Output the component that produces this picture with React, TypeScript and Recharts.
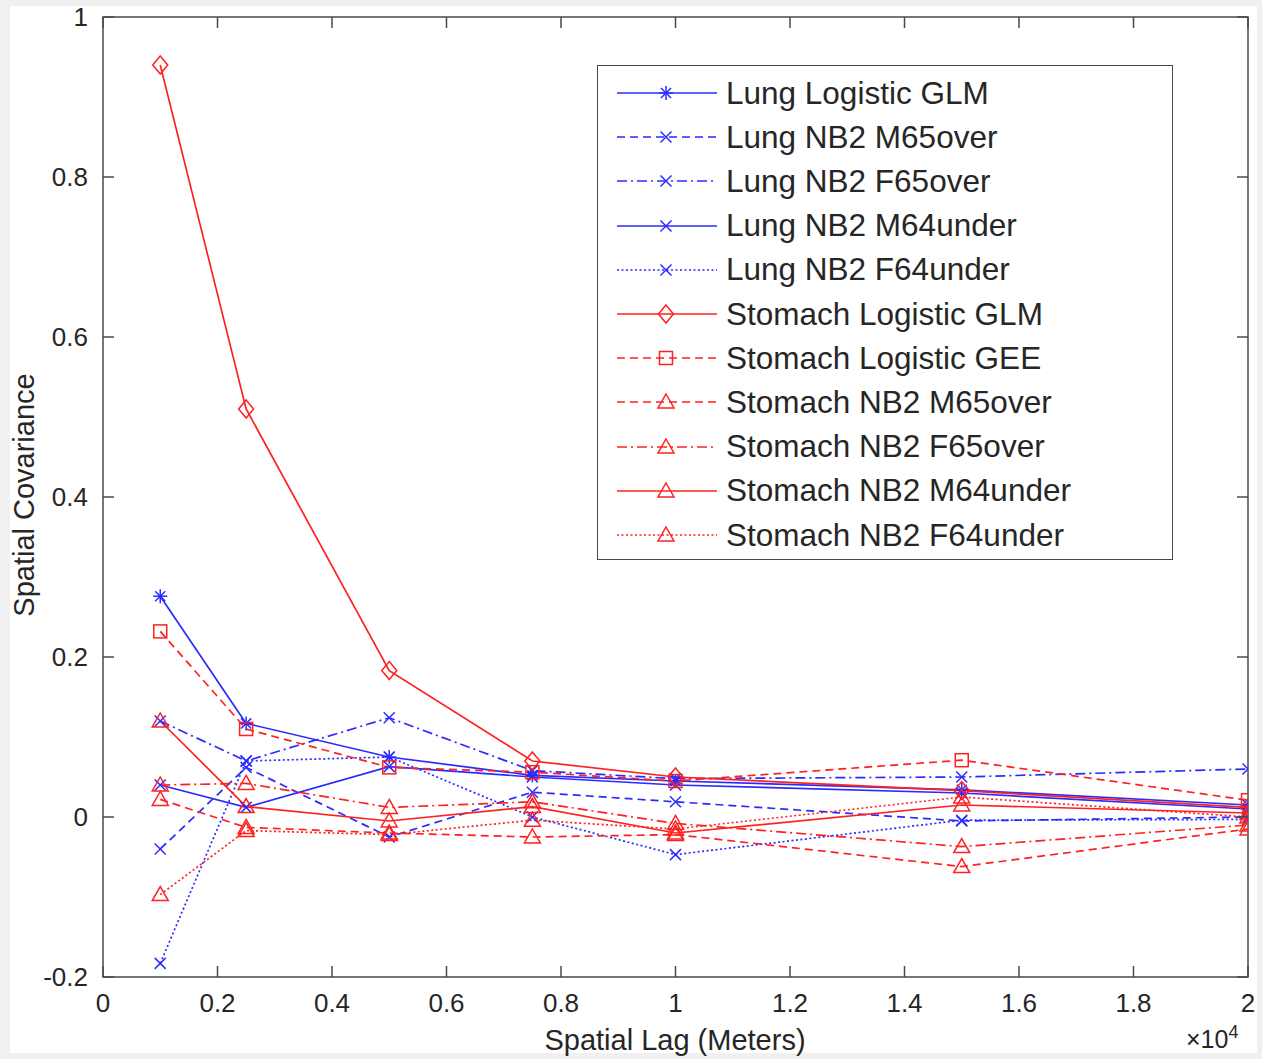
import { LineChart, Line, XAxis, YAxis, ReferenceArea } from "recharts";

// spatial lag in meters
const lags = [1000, 2500, 5000, 7500, 10000, 15000, 20000];

const lungLogisticGlm = [0.276, 0.117, 0.075, 0.052, 0.045, 0.034, 0.015];
const lungM65over = [-0.04, 0.062, -0.025, 0.031, 0.019, -0.005, 0.0];
const lungF65over = [0.12, 0.07, 0.124, 0.058, 0.048, 0.05, 0.06];
const lungM64under = [0.04, 0.012, 0.063, 0.05, 0.04, 0.03, 0.01];
const lungF64under = [-0.183, 0.07, 0.075, 0.0, -0.047, -0.004, -0.003];

const stomachLogisticGlm = [0.94, 0.51, 0.183, 0.07, 0.05, 0.033, 0.012];
const stomachLogisticGee = [0.232, 0.11, 0.062, 0.056, 0.045, 0.071, 0.021];
const stomachM65over = [0.022, -0.013, -0.02, -0.025, -0.022, -0.062, -0.015];
const stomachF65over = [0.04, 0.042, 0.012, 0.019, -0.008, -0.037, -0.01];
const stomachM64under = [0.12, 0.013, -0.005, 0.013, -0.02, 0.015, 0.005];
const stomachF64under = [-0.097, -0.017, -0.022, -0.004, -0.015, 0.025, 0.0];

const xTicks = [0, 2000, 4000, 6000, 8000, 10000, 12000, 14000, 16000, 18000, 20000];
const xTickLabels = ["0", "0.2", "0.4", "0.6", "0.8", "1", "1.2", "1.4", "1.6", "1.8", "2"];
const yTicks = [-0.2, 0, 0.2, 0.4, 0.6, 0.8, 1];
const yTickLabels = ["-0.2", "0", "0.2", "0.4", "0.6", "0.8", "1"];

const BLUE = "#2b2bff";
const RED = "#ff2020";
const AXIS = "#4a4a4a";
const TEXT = "#262626";
const FONT = "'Liberation Sans', Arial, Helvetica, sans-serif";

const PLOT_LEFT = 103;
const PLOT_RIGHT = 1248;
const PLOT_TOP = 17;
const PLOT_BOTTOM = 977;
const TICK_LEN = 11;

const DASHED = "8 5";
const DASH_DOT = "10 4 2 4";
const DOTTED = "2 2.5";

type MarkerKind = "asterisk" | "x" | "diamond" | "square" | "triangle";

const series = [
  { key: "s0", name: "Lung Logistic GLM", values: lungLogisticGlm, color: BLUE, dash: undefined, marker: "asterisk" },
  { key: "s1", name: "Lung NB2 M65over", values: lungM65over, color: BLUE, dash: DASHED, marker: "x" },
  { key: "s2", name: "Lung NB2 F65over", values: lungF65over, color: BLUE, dash: DASH_DOT, marker: "x" },
  { key: "s3", name: "Lung NB2 M64under", values: lungM64under, color: BLUE, dash: undefined, marker: "x" },
  { key: "s4", name: "Lung NB2 F64under", values: lungF64under, color: BLUE, dash: DOTTED, marker: "x" },
  { key: "s5", name: "Stomach Logistic GLM", values: stomachLogisticGlm, color: RED, dash: undefined, marker: "diamond" },
  { key: "s6", name: "Stomach Logistic GEE", values: stomachLogisticGee, color: RED, dash: DASHED, marker: "square" },
  { key: "s7", name: "Stomach NB2 M65over", values: stomachM65over, color: RED, dash: DASHED, marker: "triangle" },
  { key: "s8", name: "Stomach NB2 F65over", values: stomachF65over, color: RED, dash: DASH_DOT, marker: "triangle" },
  { key: "s9", name: "Stomach NB2 M64under", values: stomachM64under, color: RED, dash: undefined, marker: "triangle" },
  { key: "s10", name: "Stomach NB2 F64under", values: stomachF64under, color: RED, dash: DOTTED, marker: "triangle" },
] as { key: string; name: string; values: number[]; color: string; dash?: string; marker: MarkerKind }[];

const data = lags.map((lag, i) => {
  const row: Record<string, number> = { lag };
  series.forEach((s) => {
    row[s.key] = s.values[i];
  });
  return row;
});

function Marker({ kind, cx, cy, color }: { kind: MarkerKind; cx: number; cy: number; color: string }) {
  const sw = 1.5;
  if (kind === "asterisk") {
    const r = 7;
    const d = r * 0.72;
    return (
      <g stroke={color} strokeWidth={sw} fill="none">
        <line x1={cx - r} y1={cy} x2={cx + r} y2={cy} />
        <line x1={cx} y1={cy - r} x2={cx} y2={cy + r} />
        <line x1={cx - d} y1={cy - d} x2={cx + d} y2={cy + d} />
        <line x1={cx - d} y1={cy + d} x2={cx + d} y2={cy - d} />
      </g>
    );
  }
  if (kind === "x") {
    const r = 5.5;
    return (
      <g stroke={color} strokeWidth={sw} fill="none">
        <line x1={cx - r} y1={cy - r} x2={cx + r} y2={cy + r} />
        <line x1={cx - r} y1={cy + r} x2={cx + r} y2={cy - r} />
      </g>
    );
  }
  if (kind === "diamond") {
    return (
      <polygon
        points={`${cx},${cy - 9} ${cx + 7.5},${cy} ${cx},${cy + 9} ${cx - 7.5},${cy}`}
        fill="none"
        stroke={color}
        strokeWidth={sw}
      />
    );
  }
  if (kind === "square") {
    return <rect x={cx - 6.5} y={cy - 6.5} width={13} height={13} fill="none" stroke={color} strokeWidth={sw} />;
  }
  return (
    <polygon
      points={`${cx},${cy - 8} ${cx + 8},${cy + 6} ${cx - 8},${cy + 6}`}
      fill="none"
      stroke={color}
      strokeWidth={sw}
    />
  );
}

function XTick(props: any) {
  const { x, payload } = props;
  const idx = xTicks.indexOf(payload.value);
  return (
    <g>
      <line x1={x} y1={PLOT_BOTTOM} x2={x} y2={PLOT_BOTTOM - TICK_LEN} stroke={AXIS} strokeWidth={1.5} />
      <line x1={x} y1={PLOT_TOP} x2={x} y2={PLOT_TOP + TICK_LEN} stroke={AXIS} strokeWidth={1.5} />
      <text x={x} y={PLOT_BOTTOM + 35} textAnchor="middle" fill={TEXT} fontSize={26} fontFamily={FONT}>
        {xTickLabels[idx]}
      </text>
    </g>
  );
}

function YTick(props: any) {
  const { y, payload } = props;
  const idx = yTicks.findIndex((t) => Math.abs(t - payload.value) < 1e-9);
  return (
    <g>
      <line x1={PLOT_LEFT} y1={y} x2={PLOT_LEFT + TICK_LEN} y2={y} stroke={AXIS} strokeWidth={1.5} />
      <line x1={PLOT_RIGHT} y1={y} x2={PLOT_RIGHT - TICK_LEN} y2={y} stroke={AXIS} strokeWidth={1.5} />
      <text x={PLOT_LEFT - 15} y={y + 9} textAnchor="end" fill={TEXT} fontSize={26} fontFamily={FONT}>
        {yTickLabels[idx]}
      </text>
    </g>
  );
}

function LegendBox() {
  return (
    <div
      style={{
        position: "absolute",
        left: 597,
        top: 65,
        width: 574,
        height: 493,
        border: `1.5px solid ${AXIS}`,
        background: "#fff",
        boxSizing: "content-box",
      }}
    >
      {series.map((s, i) => (
        <div
          key={s.key}
          style={{ position: "absolute", left: 0, top: 7 + i * 44.2, height: 40, display: "flex", alignItems: "center" }}
        >
          <svg width={128} height={40} style={{ display: "block" }}>
            <line x1={19} y1={20} x2={119} y2={20} stroke={s.color} strokeWidth={1.7} strokeDasharray={s.dash} />
            <Marker kind={s.marker} cx={68} cy={20} color={s.color} />
          </svg>
          <span style={{ fontFamily: FONT, fontSize: 31.5, color: TEXT, whiteSpace: "nowrap" }}>{s.name}</span>
        </div>
      ))}
    </div>
  );
}

export default function App() {
  return (
    <div
      style={{ position: "absolute", left: 0, top: 0, width: 1262, height: 1059, background: "#f0f0f0", overflow: "hidden" }}
    >
      <div style={{ position: "absolute", left: 10, top: 6, width: 1247, height: 1047, background: "#fff" }} />
      <div style={{ position: "absolute", left: 0, top: 0 }}>
        <LineChart width={1262} height={1059} data={data} margin={{ top: PLOT_TOP, right: 1262 - PLOT_RIGHT, bottom: 0, left: 0 }}>
          <XAxis
            dataKey="lag"
            type="number"
            domain={[0, 20000]}
            ticks={xTicks}
            height={1059 - PLOT_BOTTOM}
            axisLine={false}
            tickLine={false}
            tickSize={0}
            tick={<XTick />}
            interval={0}
            allowDataOverflow
          />
          <YAxis
            type="number"
            domain={[-0.2, 1]}
            ticks={yTicks}
            width={PLOT_LEFT}
            axisLine={false}
            tickLine={false}
            tickSize={0}
            tick={<YTick />}
            interval={0}
            allowDataOverflow
          />
          <ReferenceArea x1={0} x2={20000} y1={-0.2} y2={1} fill="none" stroke={AXIS} strokeWidth={1.5} ifOverflow="visible" />
          {series.map((s) => (
            <Line
              key={s.key}
              dataKey={s.key}
              name={s.name}
              type="linear"
              stroke={s.color}
              strokeWidth={1.7}
              strokeDasharray={s.dash}
              isAnimationActive={false}
              dot={(p: any) => <Marker key={`${s.key}-${p.index}`} kind={s.marker} cx={p.cx} cy={p.cy} color={s.color} />}
              activeDot={false}
            />
          ))}
        </LineChart>
      </div>
      <LegendBox />
      <div
        style={{
          position: "absolute",
          left: 24,
          top: 495,
          transform: "translate(-50%, -50%) rotate(-90deg)",
          fontFamily: FONT,
          fontSize: 29,
          color: TEXT,
          whiteSpace: "nowrap",
        }}
      >
        Spatial Covariance
      </div>
      <div
        style={{
          position: "absolute",
          left: 675,
          top: 1040,
          transform: "translate(-50%, -50%)",
          fontFamily: FONT,
          fontSize: 29,
          color: TEXT,
          whiteSpace: "nowrap",
        }}
      >
        Spatial Lag (Meters)
      </div>
      <div
        style={{
          position: "absolute",
          left: 1186,
          top: 1026,
          fontFamily: FONT,
          fontSize: 25,
          lineHeight: "26px",
          color: TEXT,
          whiteSpace: "nowrap",
        }}
      >
        ×10<span style={{ fontSize: 18, position: "relative", top: -10 }}>4</span>
      </div>
    </div>
  );
}
